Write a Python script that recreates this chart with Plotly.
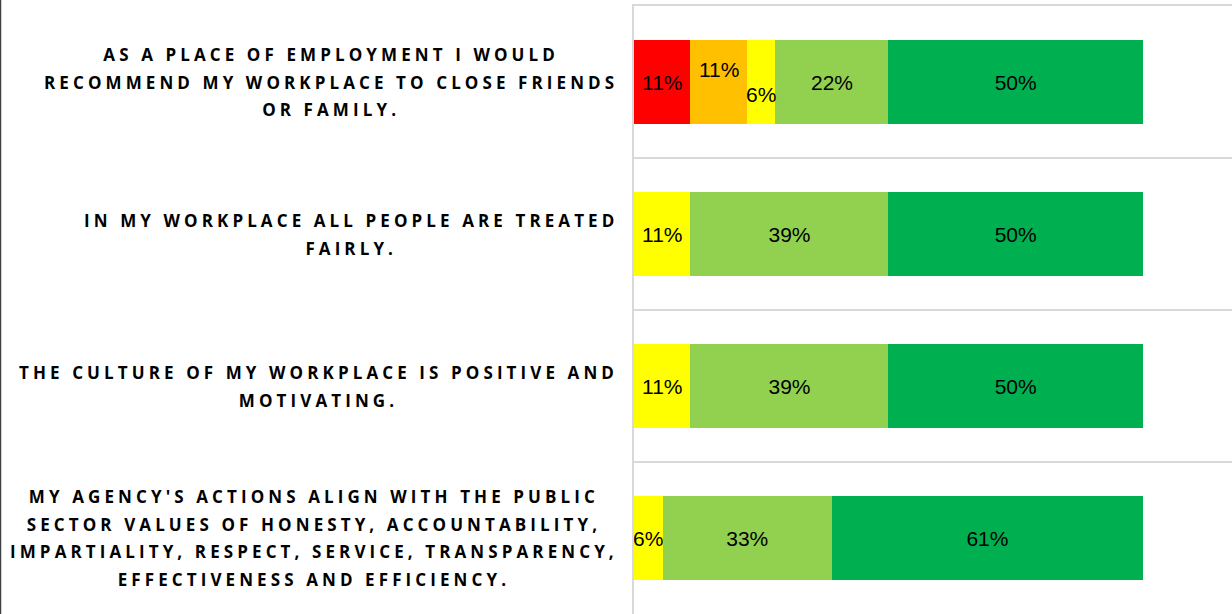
import numpy as np
import plotly.graph_objects as go

categories = [
    "AS A PLACE OF EMPLOYMENT I WOULD<br>RECOMMEND MY WORKPLACE TO CLOSE FRIENDS<br>OR FAMILY.",
    "IN MY WORKPLACE ALL PEOPLE ARE TREATED<br>FAIRLY.",
    "THE CULTURE OF MY WORKPLACE IS POSITIVE AND<br>MOTIVATING.",
    "MY AGENCY'S ACTIONS ALIGN WITH THE PUBLIC<br>SECTOR VALUES OF HONESTY, ACCOUNTABILITY,<br>IMPARTIALITY, RESPECT, SERVICE, TRANSPARENCY,<br>EFFECTIVENESS AND EFFICIENCY.",
]
series_names = ["Strongly disagree", "Disagree", "Neutral", "Agree", "Strongly agree"]
strongly_disagree = [11.1, 0, 0, 0]
disagree = [11.1, 0, 0, 0]
neutral = [5.6, 11.1, 11.1, 5.6]
agree = [22.2, 38.9, 38.9, 33.3]
strongly_agree = [50.0, 50.0, 50.0, 61.1]

series_values = [strongly_disagree, disagree, neutral, agree, strongly_agree]
colors = ["#FF0000", "#FFC000", "#FFFF00", "#92D050", "#00B050"]

# labels that the original chart nudged vertically (series index, category index) -> pixel shift
nudged = {(1, 0): 13, (2, 0): -12}

W, H = 1232, 614
ML, MT = 634, 6
PW, PH = W - ML, H - MT

fig = go.Figure()
label_font = dict(family="Liberation Sans, Arial, sans-serif", size=21, color="#000000")
base = np.zeros(len(categories))
annotations = []
for si, (name, vals, col) in enumerate(zip(series_names, series_values, colors)):
    vals = np.array(vals, dtype=float)
    texts = []
    for ci, v in enumerate(vals):
        if v <= 0 or (si, ci) in nudged:
            texts.append("")
        else:
            texts.append(f"{v:.0f}%")
        if v > 0 and (si, ci) in nudged:
            annotations.append(dict(
                x=base[ci] + v / 2, y=categories[ci], xref="x", yref="y",
                text=f"{v:.0f}%", showarrow=False, font=label_font,
                yshift=nudged[(si, ci)], xanchor="center", yanchor="middle",
            ))
    fig.add_trace(go.Bar(
        name=name, y=categories, x=vals, orientation="h",
        marker=dict(color=col, line=dict(width=0)),
        text=texts, textposition="inside", insidetextanchor="middle",
        textangle=0, textfont=label_font, hoverinfo="skip",
    ))
    base += vals

# category labels (block right-aligned, lines centred)
for c in categories:
    styled = "<br>".join(
        f'<span style="font-size:17px;letter-spacing:4.1px">{line}</span>'
        for line in c.split("<br>")
    )
    annotations.append(dict(
        x=(620 - ML) / PW, xref="paper", y=c, yref="y",
        text=f"<b>{styled}</b>", showarrow=False, align="center",
        xanchor="right", yanchor="middle",
        font=dict(family="Open Sans, DejaVu Sans, sans-serif", size=21.3, color="#000000"),
    ))

fig.update_layout(
    width=W, height=H,
    margin=dict(l=ML, r=0, t=MT, b=0, pad=0),
    barmode="stack", bargap=0.445,
    showlegend=False,
    plot_bgcolor="#FFFFFF", paper_bgcolor="#FFFFFF",
    uniformtext=dict(minsize=21, mode="show"),
    annotations=annotations,
    shapes=[dict(type="line", xref="paper", yref="paper",
                 x0=-(ML - 0.5) / PW, x1=-(ML - 0.5) / PW, y0=-0.01, y1=1 + MT / PH,
                 line=dict(color="#404040", width=1.5))],
)
fig.update_xaxes(range=[0, 117.5], showgrid=False, zeroline=False,
                 showticklabels=False, ticks="",
                 showline=True, mirror=True, linecolor="#D9D9D9", linewidth=2)
fig.update_yaxes(type="category", autorange="reversed", tickson="boundaries",
                 showgrid=True, gridcolor="#D9D9D9", gridwidth=2,
                 showticklabels=False, ticks="",
                 showline=True, linecolor="#D9D9D9", linewidth=2, zeroline=False)

fig.write_html("out.html")
